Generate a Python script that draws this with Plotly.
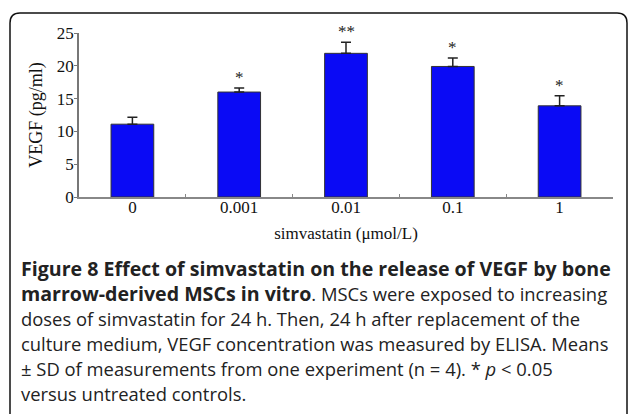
import plotly.graph_objects as go

# ---- data ----
doses = ["0", "0.001", "0.01", "0.1", "1"]
vegf_mean = [11.1, 16.0, 21.9, 19.9, 13.9]
vegf_sd = [1.05, 0.6, 1.7, 1.3, 1.55]
significance = ["", "*", "**", "*", "*"]
y_ticks = [0, 5, 10, 15, 20, 25]
y_title = "VEGF (pg/ml)"
x_title = "simvastatin (μmol/L)"
BOLD = '<span style="font-size:19.6px"><b>{}</b></span>'
caption_lines = [
    BOLD.format("Figure 8 Effect of simvastatin on the release of VEGF by bone"),
    BOLD.format("marrow-derived MSCs in vitro") + ". MSCs were exposed to increasing",
    "doses of simvastatin for 24 h. Then, 24 h after replacement of the",
    "culture medium, VEGF concentration was measured by ELISA. Means",
    "± SD of measurements from one experiment (n = 4). * <i>p</i> &lt; 0.05",
    "versus untreated controls.",
]

# ---- layout geometry (pixels) ----
W, H = 629, 414
L, R, T, B = 79, 16, 33, 217
PW, PH = W - L - R, H - T - B


def px(x):
    return (x - L) / PW


def py(y):
    return (H - B - y) / PH


SERIF = "Liberation Serif, Times New Roman, serif"
SANS = "Open Sans, Noto Sans, sans-serif"

fig = go.Figure()
fig.add_trace(go.Bar(
    x=doses, y=vegf_mean, width=0.4,
    marker=dict(color="#0a0af5", line=dict(color="#333333", width=1)),
    error_y=dict(type="data", symmetric=False, array=vegf_sd,
                 arrayminus=[0] * len(vegf_sd),
                 color="#222222", thickness=1.5, width=5),
    showlegend=False, hoverinfo="skip",
))

for i, (m, s, sig) in enumerate(zip(vegf_mean, vegf_sd, significance)):
    if sig:
        fig.add_annotation(x=i, y=m + s, text=sig, showarrow=False,
                           yanchor="bottom", yshift=-1,
                           font=dict(family=SERIF, size=17, color="#222"))

for i, line in enumerate(caption_lines):
    yc = 268 + 25 * i
    fig.add_annotation(xref="paper", yref="paper", x=px(19), y=py(yc),
                       xanchor="left", yanchor="middle", showarrow=False,
                       align="left", text=line,
                       font=dict(family=SANS, size=18.4, color="#222"))

# rounded frame around the figure (top/left/right visible)
x0, x1, y0, yb, r = 10, 627, 13, 420, 10
path = (f"M {px(x0)},{py(yb)} L {px(x0)},{py(y0 + r)} "
        f"Q {px(x0)},{py(y0)} {px(x0 + r)},{py(y0)} "
        f"L {px(x1 - r)},{py(y0)} Q {px(x1)},{py(y0)} {px(x1)},{py(y0 + r)} "
        f"L {px(x1)},{py(yb)}")
fig.add_shape(type="path", xref="paper", yref="paper", path=path,
              line=dict(color="#111", width=1.5))

fig.update_layout(
    width=W, height=H,
    margin=dict(l=L, r=R, t=T, b=B, autoexpand=False),
    plot_bgcolor="white", paper_bgcolor="white",
    font=dict(family=SERIF, size=17, color="#111"),
    xaxis=dict(
        type="category", range=[-0.5, 4.5],
        showline=True, linecolor="#888", linewidth=1.5,
        ticks="inside", tickson="boundaries", ticklen=3, tickcolor="#888",
        tickfont=dict(family=SERIF, size=17, color="#111"),
        ticklabelstandoff=-6,
        showgrid=False, zeroline=False,
        title=dict(text=x_title, standoff=11,
                   font=dict(family=SERIF, size=17, color="#111")),
        automargin=False,
    ),
    yaxis=dict(
        range=[0, 25], tickvals=y_ticks,
        showline=True, linecolor="#777", linewidth=1.5,
        ticks="outside", ticklen=3, tickcolor="#777",
        tickfont=dict(family=SERIF, size=17, color="#111"),
        ticklabelstandoff=-3,
        showgrid=False, zeroline=False,
        title=dict(text=y_title, standoff=10,
                   font=dict(family=SERIF, size=18, color="#111")),
        automargin=False,
    ),
)

fig.write_html("out.html", config={"displayModeBar": False},
               post_script="document.body.style.margin='0px';")
